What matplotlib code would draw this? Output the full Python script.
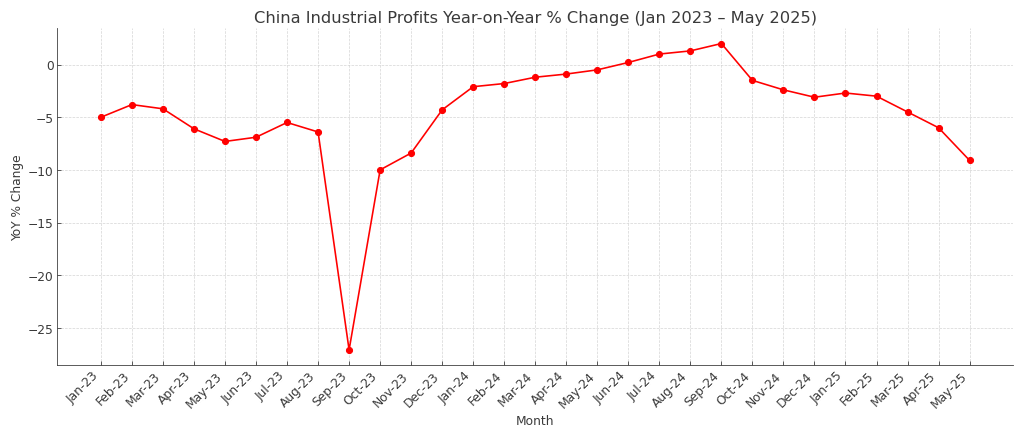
import matplotlib.pyplot as plt

months = ['Jan-23', 'Feb-23', 'Mar-23', 'Apr-23', 'May-23', 'Jun-23', 'Jul-23', 'Aug-23',
          'Sep-23', 'Oct-23', 'Nov-23', 'Dec-23', 'Jan-24', 'Feb-24', 'Mar-24', 'Apr-24',
          'May-24', 'Jun-24', 'Jul-24', 'Aug-24', 'Sep-24', 'Oct-24', 'Nov-24', 'Dec-24',
          'Jan-25', 'Feb-25', 'Mar-25', 'Apr-25', 'May-25']
yoy_change = [-5.0, -3.8, -4.2, -6.1, -7.3, -6.9, -5.5, -6.4,
              -27.1, -10.0, -8.4, -4.3, -2.1, -1.8, -1.2, -0.9,
              -0.5, 0.2, 1.0, 1.3, 2.0, -1.5, -2.4, -3.1,
              -2.7, -3.0, -4.5, -6.0, -9.1]

text_color = '#3a3a3a'
plt.rcParams['text.color'] = text_color
plt.rcParams['axes.labelcolor'] = text_color
plt.rcParams['xtick.color'] = text_color
plt.rcParams['ytick.color'] = text_color

fig, ax = plt.subplots(figsize=(14, 6), dpi=1024 / 14)
ax.plot(months, yoy_change, color='red', marker='o', markersize=6, linewidth=1.6)

ax.set_title('China Industrial Profits Year-on-Year % Change (Jan 2023 \u2013 May 2025)', fontsize=16)
ax.set_xlabel('Month', fontsize=12)
ax.set_ylabel('YoY % Change', fontsize=12)
ax.grid(True, linestyle='--', color='#cccccc', linewidth=0.7, alpha=0.8)
ax.tick_params(direction='in', labelsize=12)
plt.setp(ax.get_xticklabels(), rotation=45, ha='right')
for side in ['top', 'right']:
    ax.spines[side].set_visible(False)
for side in ['left', 'bottom']:
    ax.spines[side].set_color(text_color)

plt.tight_layout()
plt.savefig('out.png')
